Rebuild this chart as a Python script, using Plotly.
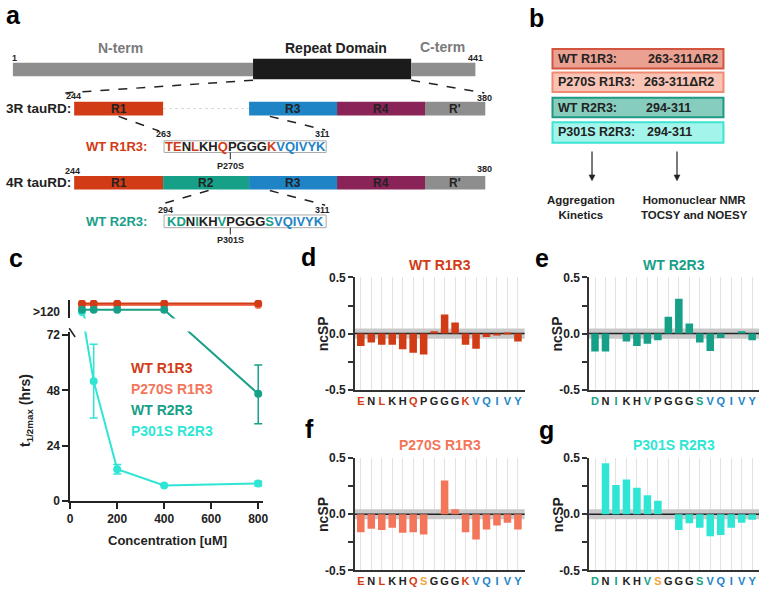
import plotly.graph_objects as go

# Page size
W, H = 768, 594
FONT = "Liberation Sans, Arial, sans-serif"

# Colours
RED = "#D13B16"
SALMON = "#F3765B"
TEAL = "#17A088"
CYAN = "#2FE6D5"
BLUE = "#1F84C6"
PURPLE = "#8A2357"
GREY = "#8E8E8E"
ORANGE = "#F1A63F"
INK = "#222222"

# Panel a: schematic
top_names = ["N-term", "Repeat Domain", "C-term"]
top_edges = [10, 253, 413, 478]
top_colors = [GREY, "#1B1B1B", GREY]
repeat_names = ["R1", "R2", "R3", "R4", "R'"]
repeat_edges = [72, 162, 249, 338, 427, 488]
repeat_colors = [RED, TEAL, BLUE, PURPLE, GREY]
r1r3_seq = list("TENLKHQPGGGKVQIVYK")
r1r3_grp = list("rrkrkkrkkkkrbbbbbb")
r2r3_seq = list("KDNIKHVPGGGSVQIVYK")
r2r3_grp = list("ttktkktkkkktbbbbbb")

# Panel b: constructs
constructs = ["WT R1R3:", "P270S R1R3:", "WT R2R3:", "P301S R2R3:"]
ranges = ["263-311\u0394R2", "263-311\u0394R2", "294-311", "294-311"]

# Panel c: aggregation kinetics (hrs); OVER = ">120"
OVER = ">120"
conc = [50, 100, 200, 400, 800]
t_wt_r1r3 = [OVER, OVER, OVER, OVER, OVER]
t_p270s_r1r3 = [OVER, OVER, OVER, OVER, OVER]
t_wt_r2r3 = [OVER, OVER, OVER, OVER, 46.5]
t_wt_r2r3_hi = [0, 0, 0, 0, 12.5]
t_wt_r2r3_lo = [0, 0, 0, 0, 13.0]
t_p301s_r2r3 = [OVER, 52, 13.8, 6.8, 7.6]
t_p301s_r2r3_hi = [0, 16, 2.1, 0, 1.0]
t_p301s_r2r3_lo = [0, 16, 2.1, 0, 1.0]

# Panels d-g: ncSP per residue
res_r1r3 = list("ENLKHQPGGGKVQIVY")
res_r2r3 = list("DNIKHVPGGGSVQIVY")
ncsp_wt_r1r3 = [-0.11, -0.08, -0.10, -0.10, -0.14, -0.17, -0.185, 0.02, 0.17, 0.10,
                -0.10, -0.135, -0.03, -0.015, 0.01, -0.07]
ncsp_wt_r2r3 = [-0.16, -0.16, 0.0, -0.07, -0.11, -0.09, -0.06, 0.15, 0.31, 0.09,
                -0.08, -0.155, -0.04, 0.0, 0.02, -0.06]
ncsp_p270s_r1r3 = [-0.16, -0.13, -0.14, -0.12, -0.165, -0.16, -0.18, 0.0, 0.30, 0.045,
                   -0.16, -0.225, -0.135, -0.10, -0.075, -0.135]
ncsp_p301s_r2r3 = [0.0, 0.455, 0.26, 0.31, 0.235, 0.17, 0.12, 0.0, -0.14, -0.08,
                   -0.12, -0.195, -0.185, -0.12, -0.075, -0.05]


def px(x):
    return x / W


def py(y):
    return 1 - y / H


grp_color = {"r": RED, "k": INK, "b": BLUE, "t": TEAL, "m": ORANGE}

shapes = []
annotations = []


def text(x, y, s, size=12, color=INK, anchor="center", bold=True, angle=0):
    annotations.append(dict(
        x=px(x), y=py(y), xref="paper", yref="paper", text=s, showarrow=False,
        xanchor=anchor, yanchor="middle", textangle=angle, borderpad=0,
        font=dict(family=FONT, size=size, color=color,
                  weight="bold" if bold else "normal")))


def rect(x0, x1, y0, y1, fill, line=None, lw=0):
    shapes.append(dict(type="rect", xref="paper", yref="paper",
                       x0=px(x0), x1=px(x1), y0=py(y1), y1=py(y0),
                       fillcolor=fill, line=dict(color=line or fill, width=lw)))


def seg(x0, y0, x1, y1, dash="dash", color=INK, width=1.5):
    shapes.append(dict(type="line", xref="paper", yref="paper",
                       x0=px(x0), x1=px(x1), y0=py(y0), y1=py(y1),
                       line=dict(color=color, width=width, dash=dash)))


def arrow_down(x, y0, y1):
    seg(x, y0, x, y1 - 4, dash="solid", width=1.2)
    shapes.append(dict(type="path", xref="paper", yref="paper",
                       path="M %f %f L %f %f L %f %f Z" % (
                           px(x - 3), py(y1 - 6), px(x + 3), py(y1 - 6), px(x), py(y1)),
                       fillcolor=INK, line=dict(color=INK, width=0.5)))


def colored(seq, grp):
    return "".join("<span style='color:%s'>%s</span>" % (grp_color[g], s)
                   for s, g in zip(seq, grp))


# ---------------- panel a ----------------
for i, name in enumerate(top_names):
    x0, x1 = top_edges[i], top_edges[i + 1]
    if i == 1:
        rect(x0, x1, 53, 74, top_colors[i])
        text((x0 + x1) / 2 + 4, 42, name, size=14, color=INK)
    else:
        rect(x0, x1, 57, 71, top_colors[i])
text(119, 42, "N-term", size=14, color="#7A7A7A")
text(445, 41, "C-term", size=14, color="#7A7A7A")
text(12, 52, "1", size=9)
text(487, 52.5, "441", size=9, anchor="right")
seg(253, 75, 63, 88)
seg(413, 75, 487, 88)

# 3R row
text(63, 91, "244", size=9, anchor="left")
text(496, 93, "380", size=9, anchor="right")
text(2, 104, "3R tauRD:", size=13.5, anchor="left")
for i, name in enumerate(repeat_names):
    if name == "R2":
        seg(repeat_edges[i], 104, repeat_edges[i + 1], 104, dash="dot", color="#D8D8D8", width=1)
        continue
    rect(repeat_edges[i], repeat_edges[i + 1], 97, 111, repeat_colors[i])
    text((repeat_edges[i] + repeat_edges[i + 1]) / 2, 104, name, size=12)

seg(117, 112, 158, 127)
seg(270, 112, 326, 126)
text(154, 130, "263", size=9, anchor="left")
text(332, 130, "311", size=9, anchor="right")
rect(163, 327, 137, 149, "white", "#AAAAAA", 1)
text(147, 143, "WT R1R3:", size=13, color=RED, anchor="right")
text(245, 143, colored(r1r3_seq, r1r3_grp), size=13)
seg(230, 149, 230, 156, dash="solid", width=1)
text(230, 163, "P270S", size=9)

# 4R row
text(62, 168, "244", size=9, anchor="left")
text(496, 166, "380", size=9, anchor="right")
text(2, 180, "4R tauRD:", size=13.5, anchor="left")
for i, name in enumerate(repeat_names):
    rect(repeat_edges[i], repeat_edges[i + 1], 173, 187, repeat_colors[i])
    text((repeat_edges[i] + repeat_edges[i + 1]) / 2, 180, name, size=12)

seg(208, 188, 160, 202)
seg(270, 188, 326, 203)
text(156, 207.5, "294", size=9, anchor="left")
text(332, 207.5, "311", size=9, anchor="right")
rect(163, 327, 213, 226, "white", "#AAAAAA", 1)
text(147, 219.5, "WT R2R3:", size=13, color=TEAL, anchor="right")
text(245, 219.5, colored(r2r3_seq, r2r3_grp), size=13)
seg(230, 226, 230, 233, dash="solid", width=1)
text(230, 239, "P301S", size=9)

# ---------------- panel b ----------------
box_y = [(43, 63), (67, 87), (93, 113), (118, 139)]
box_fill = ["#EBA192", "#F9C4B6", "#86CDBE", "#A3F4EA"]
box_line = ["#D4553F", "#F08A72", "#1E9983", "#3EE3D3"]
for i, name in enumerate(constructs):
    y0, y1 = box_y[i]
    rect(556, 729, y0, y1, box_fill[i], box_line[i], 2)
    ym = (y0 + y1) / 2
    text(561, ym, name, size=12.5, anchor="left")
    if i == 0:
        text(724, ym, ranges[i], size=12.5, anchor="right")
    elif i == 2:
        text(650, ym, ranges[i], size=12.5, anchor="left")
    else:
        text(561 + (87 if i == 1 else 90), ym, ranges[i], size=12.5, anchor="left")
arrow_down(596, 148, 178)
arrow_down(682, 148, 178)
text(585, 205, "Aggregation<br>Kinetics", size=11.5)
text(700, 205, "Homonuclear NMR<br>TOCSY and NOESY", size=11.5)

# panel letters
for lab, x, y in [("a", 11, 8), ("b", 540, 11), ("c", 13, 257), ("d", 309, 256),
                  ("e", 545, 257), ("f", 310, 432), ("g", 550, 433)]:
    text(x, y, lab, size=25, color="black")

fig = go.Figure()

# ---------------- panel c ----------------
band_level = {"WT R1R3": 85.7, "P270S R1R3": 85.0, "WT R2R3": 83.0, "P301S R2R3": 82.0}
series = [
    ("P270S R1R3", t_p270s_r1r3, None, None, SALMON),
    ("WT R1R3", t_wt_r1r3, None, None, RED),
    ("P301S R2R3", t_p301s_r2r3, t_p301s_r2r3_hi, t_p301s_r2r3_lo, CYAN),
    ("WT R2R3", t_wt_r2r3, t_wt_r2r3_hi, t_wt_r2r3_lo, TEAL),
]
for name, vals, hi, lo, col in series:
    yv = [band_level[name] if v == OVER else v for v in vals]
    err = None
    if hi is not None:
        err = dict(type="data", array=hi, arrayminus=lo, color=col,
                   thickness=1.5, width=4)
    for ax in ("y", "y2"):
        fig.add_trace(go.Scatter(
            x=conc, y=yv, xaxis="x", yaxis=ax, mode="lines+markers",
            line=dict(color=col, width=2), marker=dict(color=col, size=8),
            error_y=err if ax == "y" else None, showlegend=False, hoverinfo="skip"))

axis_font = dict(family=FONT, size=12, color=INK, weight="bold")
unit = 72 / 170.0  # hrs per pixel
ymain_top = 73.5
fig.update_layout(
    xaxis=dict(domain=[px(68), px(263)], range=[0, 820], anchor="y",
               tickvals=[0, 200, 400, 600, 800], ticks="outside", ticklen=6,
               showline=True, linecolor=INK, linewidth=1.5, tickcolor=INK,
               tickwidth=1.5, showgrid=False, zeroline=False, tickfont=axis_font),
    yaxis=dict(domain=[py(506), py(506 - ymain_top / unit)], range=[0, ymain_top],
               anchor="x", tickvals=[0, 24, 48, 72], ticks="outside", ticklen=6,
               showline=True, linecolor=INK, linewidth=1.5, tickcolor=INK,
               tickwidth=1.5, showgrid=False, zeroline=False, tickfont=axis_font),
    yaxis2=dict(domain=[py(319), py(300)],
                range=[(506 - 319) * unit, (506 - 300) * unit], anchor="x",
                tickvals=[82.3], ticktext=[">120"], ticks="outside", ticklen=6,
                tickcolor="rgba(0,0,0,0)", showline=True, linecolor=INK,
                linewidth=1.5, showgrid=False, zeroline=False, tickfont=axis_font),
)
seg(67, 329, 73, 338, dash="solid", width=1.5)
text(166, 546, "Concentration [uM]", size=13)
text(24, 413, "t<sub>1/2max</sub> (hrs)", size=14, angle=-90)
for i, (name, col) in enumerate([("WT R1R3", RED), ("P270S R1R3", SALMON),
                                 ("WT R2R3", TEAL), ("P301S R2R3", CYAN)]):
    text(129, 370 + i * 21.3, name, size=14, color=col, anchor="left")

# ---------------- panels d-g ----------------
panels = [
    ("WT R1R3", res_r1r3, ncsp_wt_r1r3, RED, 356, 277, list("rkrkkrkkkkrbbbbb")),
    ("WT R2R3", res_r2r3, ncsp_wt_r2r3, TEAL, 593, 277, list("tktkktkkkktbbbbb")),
    ("P270S R1R3", res_r1r3[:6] + ["S"] + res_r1r3[7:], ncsp_p270s_r1r3, SALMON, 356, 462,
     list("rkrkkrmkkkrbbbbb")),
    ("P301S R2R3", res_r2r3[:6] + ["S"] + res_r2r3[7:], ncsp_p301s_r2r3, CYAN, 593, 462,
     list("tktkktmkkktbbbbb")),
]
spacing = 10.6
for k, (title, res, vals, col, x0, ytop, grp) in enumerate(panels):
    n = k + 3
    xa, ya = "x%d" % n, "y%d" % n
    xr = [-0.57, -0.57 + 172 / spacing]
    fig.add_trace(go.Bar(x=list(range(len(res))), y=vals, xaxis=xa, yaxis=ya,
                         marker=dict(color=col, line=dict(width=0)),
                         showlegend=False, hoverinfo="skip"))
    fig.layout["xaxis%d" % n] = dict(
        domain=[px(x0), px(x0 + 172)], anchor=ya, range=xr,
        tickvals=list(range(len(res))), tickangle=0,
        ticktext=["<span style='color:%s'>%s</span>" % (grp_color[g], r)
                  for r, g in zip(res, grp)],
        showgrid=True, gridcolor="#E2E2E2", gridwidth=1, ticks="",
        showline=True, linecolor="#333333", linewidth=1.5, zeroline=False,
        tickfont=dict(family=FONT, size=11, color=INK, weight="bold"))
    fig.layout["yaxis%d" % n] = dict(
        domain=[py(ytop + 115), py(ytop)], anchor=xa, range=[-0.5, 0.5],
        tickvals=[-0.5, 0, 0.5], ticktext=["-0.5", "0.0", "0.5"],
        ticks="outside", ticklen=5, tickcolor="#333333", tickwidth=1.5,
        minor=dict(tickvals=[-0.25, 0.25], ticks="outside", ticklen=5,
                   tickcolor="#333333", tickwidth=1.5, showgrid=False),
        showline=True, linecolor="#333333", linewidth=1.5, showgrid=False,
        zeroline=False, tickfont=dict(family=FONT, size=12, color=INK, weight="bold"))
    shapes.append(dict(type="rect", xref=xa, yref=ya, x0=xr[0], x1=xr[1],
                       y0=-0.045, y1=0.045, fillcolor="#C9C9C9",
                       line=dict(width=0), layer="between"))
    shapes.append(dict(type="line", xref=xa, yref=ya, x0=xr[0], x1=xr[1],
                       y0=0, y1=0, line=dict(color=INK, width=1.5), layer="between"))
    text(x0 + 86, ytop - 13, title, size=14, color=col)
    text(x0 - 32, ytop + 58, "ncSP", size=14, angle=-90)

fig.update_layout(
    width=W, height=H, autosize=False,
    margin=dict(l=0, r=0, t=0, b=0),
    paper_bgcolor="white", plot_bgcolor="white",
    bargap=0.28, shapes=shapes, annotations=annotations,
    font=dict(family=FONT, color=INK),
)

fig.write_html("out.html", config={"displayModeBar": False},
               post_script="document.body.style.margin='0';")
